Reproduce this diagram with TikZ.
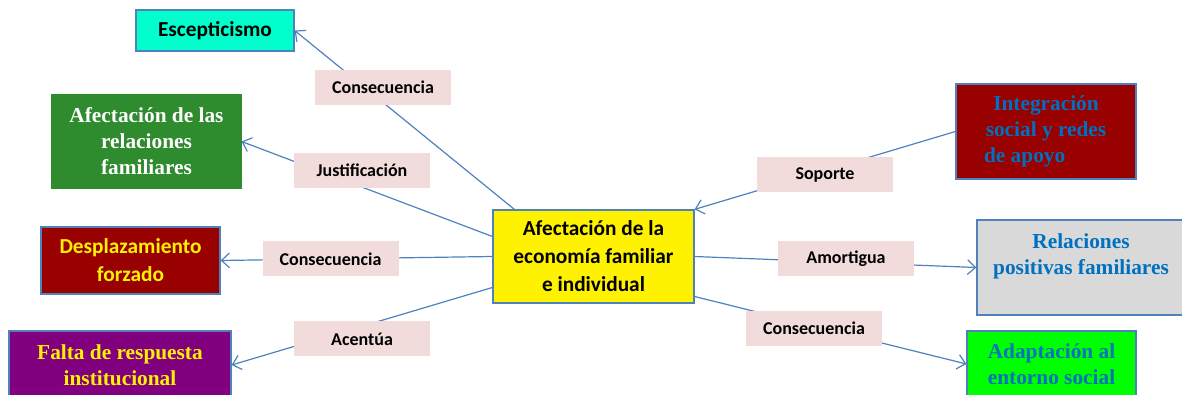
\documentclass[tikz,border=0pt]{standalone}
\usepackage{fontspec}
\setmainfont{Liberation Serif}
\newfontfamily\calibri{Carlito}
\usetikzlibrary{arrows.meta,positioning,calc}

\definecolor{linkblue}{RGB}{79,129,189}
\definecolor{labelpink}{RGB}{242,220,219}
\definecolor{aqua}{RGB}{0,255,204}
\definecolor{darkgreen}{RGB}{46,139,46}
\definecolor{darkred}{RGB}{153,0,0}
\definecolor{purp}{RGB}{128,0,128}
\definecolor{textblue}{RGB}{0,112,192}
\definecolor{lightgray}{RGB}{217,217,217}
\definecolor{brightgreen}{RGB}{0,255,0}

\tikzset{
  box/.style={rectangle, draw=linkblue, line width=0.9pt, align=center, inner sep=2pt},
  sansbox/.style={box, font=\calibri\bfseries\fontsize{16}{21}\selectfont},
  serifbox/.style={box, font=\bfseries\fontsize{16}{19.5}\selectfont},
  linklabel/.style={rectangle, fill=labelpink, minimum width=102pt, minimum height=26.25pt,
    font=\calibri\bfseries\fontsize{13.5}{15}\selectfont},
  link/.style={draw=linkblue, line width=0.9pt, -{Straight Barb[length=6pt,width=11pt]}}
}

\begin{document}
\begin{tikzpicture}[x=0.75pt,y=-0.75pt]
  \useasboundingbox (0,0) rectangle (1182,395);

  % central node
  \node[sansbox, fill=yellow, minimum width=150.75pt, minimum height=69.75pt] (ctr) at (593.5,256.5)
    {Afectación de la\\economía familiar\\e individual};

  % left side
  \node[sansbox, fill=aqua, minimum width=118.5pt, minimum height=30.75pt] (esc) at (215,30.5) {Escepticismo};
  \node[serifbox, fill=darkgreen, draw=darkgreen, text=white, minimum width=141.75pt, minimum height=69.75pt] (rel) at (146.5,141.5)
    {Afectación de las\\relaciones\\familiares};
  \node[sansbox, fill=darkred, text=yellow, minimum width=134.25pt, minimum height=50.25pt] (des) at (130.5,260.5)
    {Desplazamiento\\forzado};
  \node[serifbox, fill=purp, text=yellow, minimum width=166.5pt, minimum height=51pt] (fal) at (120,365)
    {Falta de respuesta\\institucional};

  % right side
  \node[serifbox, fill=darkred, text=textblue, minimum width=135pt, minimum height=71.25pt] (int) at (1046,131.5)
    {Integración\\social y redes\\de apoyo\hspace*{2em}};
  \node[serifbox, fill=lightgray, text=textblue, minimum width=156pt, minimum height=71.25pt] (pos) at (1081,267.5)
    {Relaciones\\positivas familiares\\\mbox{}};
  \node[serifbox, fill=brightgreen, text=textblue, minimum width=126.75pt, minimum height=49.5pt] (ada) at (1051.5,364)
    {Adaptación al\\entorno social};

  % connectors
  \draw[link] ($(ctr.north west)+(22,0)$) -- (esc.east);
  \draw[link] ($(ctr.west)+(0,-20)$) -- (rel.east);
  \draw[link] (ctr.west) -- (des.east);
  \draw[link] ($(ctr.west)+(0,31)$) -- (fal.east);
  \draw[link] (int.west) -- (ctr.north east);
  \draw[link] (ctr.east) -- (pos.west);
  \draw[link] ($(ctr.east)+(0,40)$) -- (ada.west);

  % labels on the connectors
  \node[linklabel] (lcons1) at (383,87.5) {Consecuencia};
  \node[linklabel] (ljust) at (362,170.5) {Justificación};
  \node[linklabel] (lcons2) at (330.5,259) {Consecuencia};
  \node[linklabel] (lacen) at (362,339) {Acentúa};
  \node[linklabel] (lsop) at (825,175) {Soporte};
  \node[linklabel] (lamor) at (846,259) {Amortigua};
  \node[linklabel] (lcons3) at (814,328.5) {Consecuencia};
\end{tikzpicture}
\end{document}
